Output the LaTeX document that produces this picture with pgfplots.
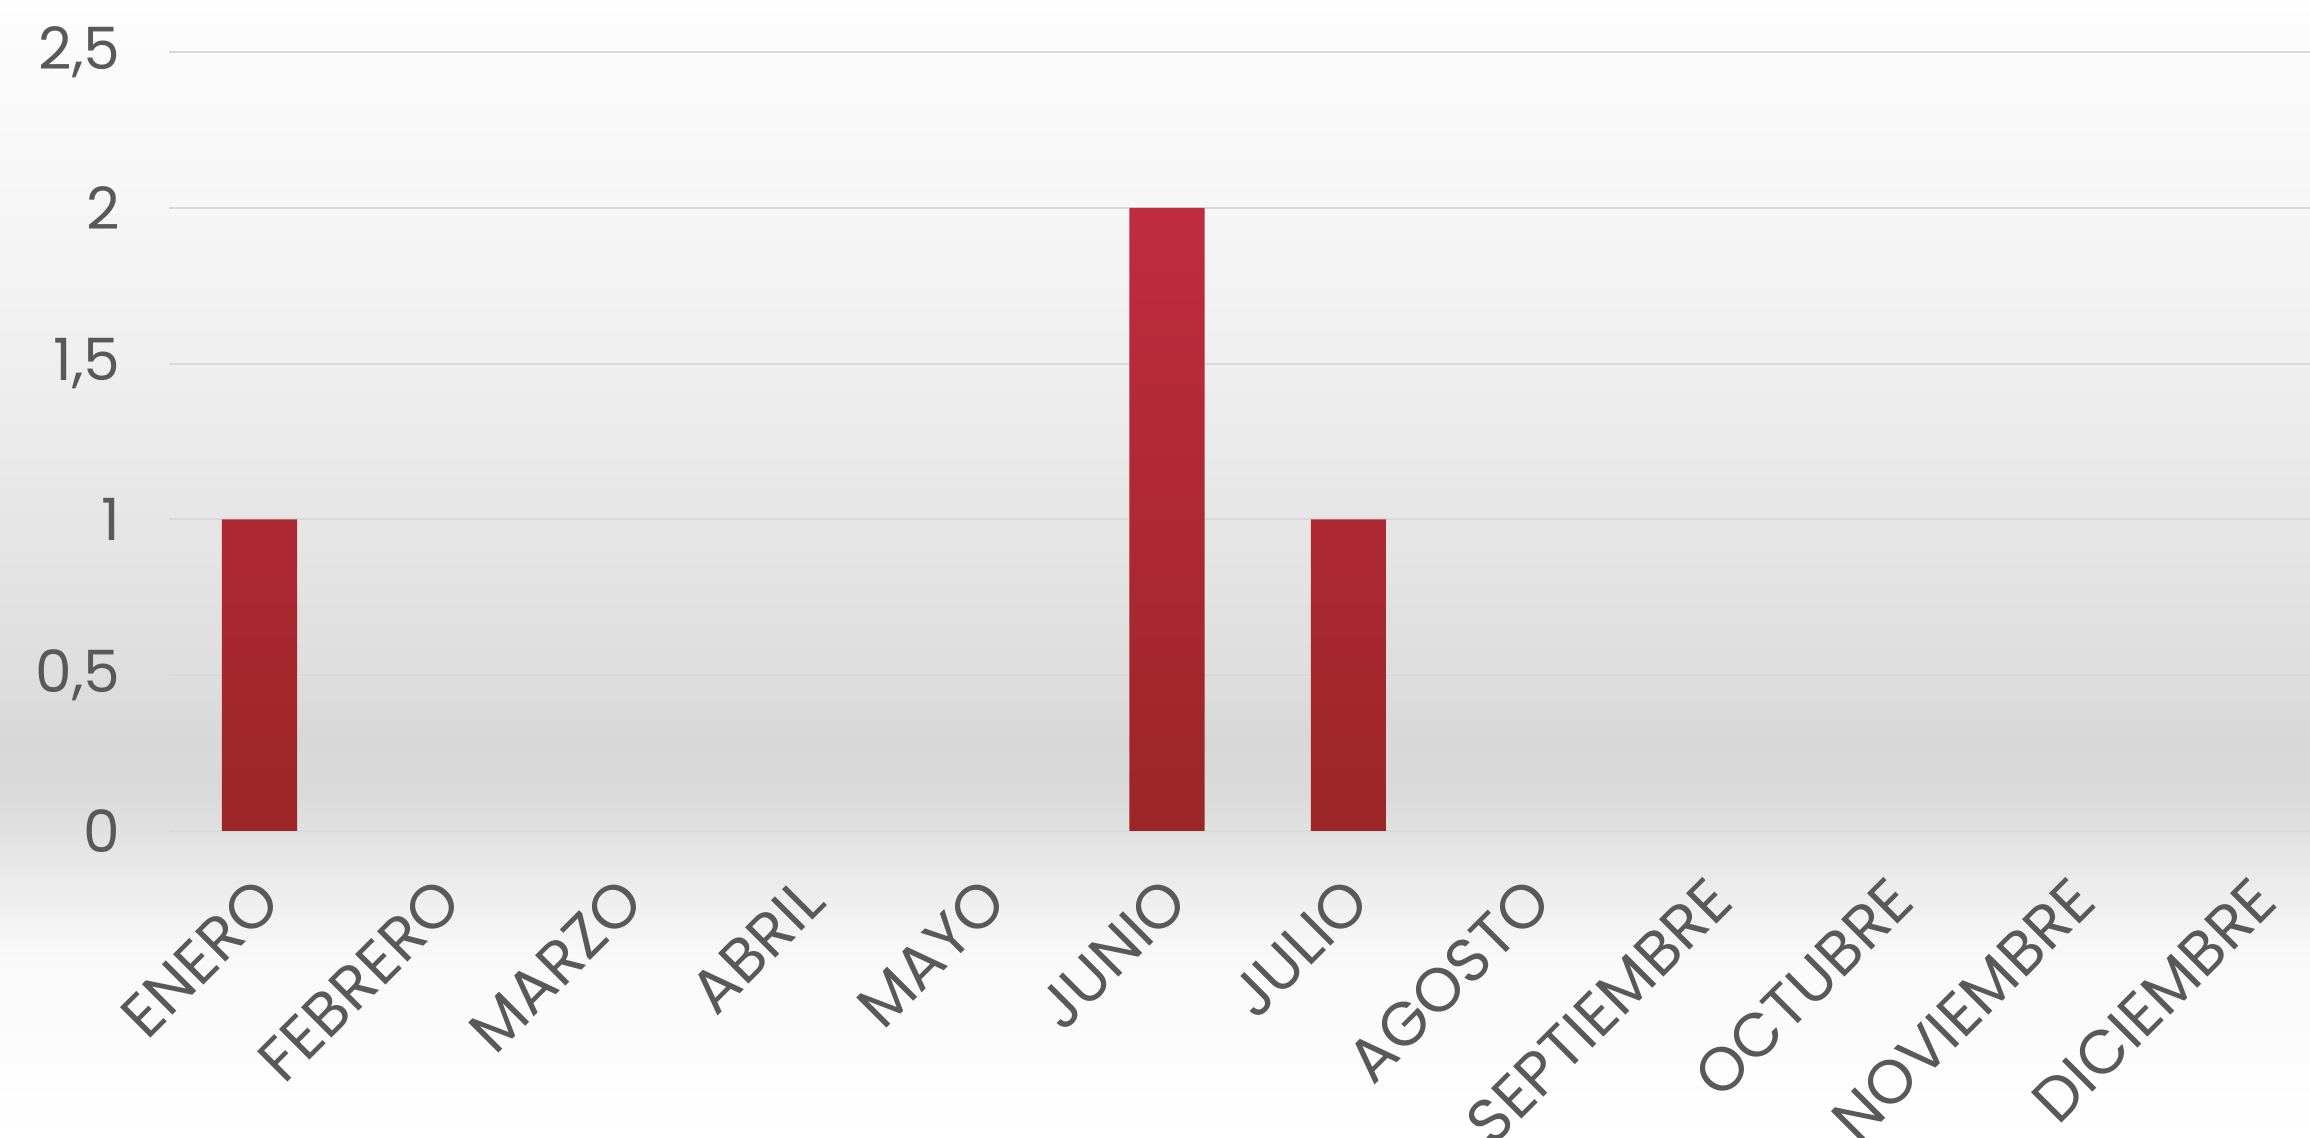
\documentclass[border=0pt]{standalone}
\usepackage{pgfplots}
\pgfplotsset{compat=1.18}
\usepackage{fontspec}
\setmainfont{Poppins}
\definecolor{txt}{HTML}{595959}
\definecolor{gridc}{HTML}{D9D9D9}
\definecolor{barTop}{HTML}{C02B40}
\definecolor{barBot}{HTML}{9B2628}
\definecolor{bg0}{HTML}{FFFFFF}
\definecolor{bg1}{HTML}{F9F9F9}
\definecolor{bg2}{HTML}{E8E8E8}
\definecolor{bg3}{HTML}{DADADA}
\definecolor{bg4}{HTML}{D8D8D8}
\definecolor{bg5}{HTML}{DEDEDE}
\definecolor{bg6}{HTML}{E6E6E6}
\definecolor{bg7}{HTML}{EFEFEF}
\definecolor{bg8}{HTML}{F6F6F6}
\definecolor{bg9}{HTML}{FBFBFB}
\definecolor{bg10}{HTML}{FEFEFE}
\pgfdeclareverticalshading{bgshade}{100bp}{color(0bp)=(bg0); color(25bp)=(bg0); color(33bp)=(bg1); color(37bp)=(bg2); color(40bp)=(bg3); color(42.5bp)=(bg4); color(45.5bp)=(bg5); color(52.25bp)=(bg6); color(59bp)=(bg7); color(66bp)=(bg8); color(72.5bp)=(bg9); color(75bp)=(bg10); color(100bp)=(bg10)}
\begin{document}
\begin{tikzpicture}
\useasboundingbox (0,0) rectangle (693pt,341.4pt);
\shade[shading=bgshade] (0,0) rectangle (693pt,341.4pt);
\begin{axis}[
  at={(50.6pt,92.1pt)}, anchor=south west,
  scale only axis, width=653.4pt, height=233.7pt,
  xmin=-0.5, xmax=11.5, ymin=0, ymax=2.5,
  axis line style={draw=none},
  major tick length=0pt,
  ytick={0,0.5,1,1.5,2,2.5},
  yticklabels={0,{0,5},1,{1,5},2,{2,5}},
  xtick={0,1,2,3,4,5,6,7,8,9,10,11},
  xticklabels={ENERO,FEBRERO,MARZO,ABRIL,MAYO,JUNIO,JULIO,AGOSTO,SEPTIEMBRE,OCTUBRE,NOVIEMBRE,DICIEMBRE},
  ymajorgrids, grid style={draw=gridc, line width=0.6pt},
  ticklabel style={text=txt},
  yticklabel style={font=\fontsize{17.5}{20}\selectfont, xshift=-11pt},
  xticklabel style={font=\fontsize{18.5}{21}\selectfont, rotate=45, anchor=east, xshift=-7pt, yshift=-14.4pt},
  ybar, bar width=0.415,
  clip=false,
]
\addplot[draw=none, top color=barTop, bottom color=barBot] coordinates {(0,1) (5,2) (6,1)};
\end{axis}
\end{tikzpicture}
\end{document}
